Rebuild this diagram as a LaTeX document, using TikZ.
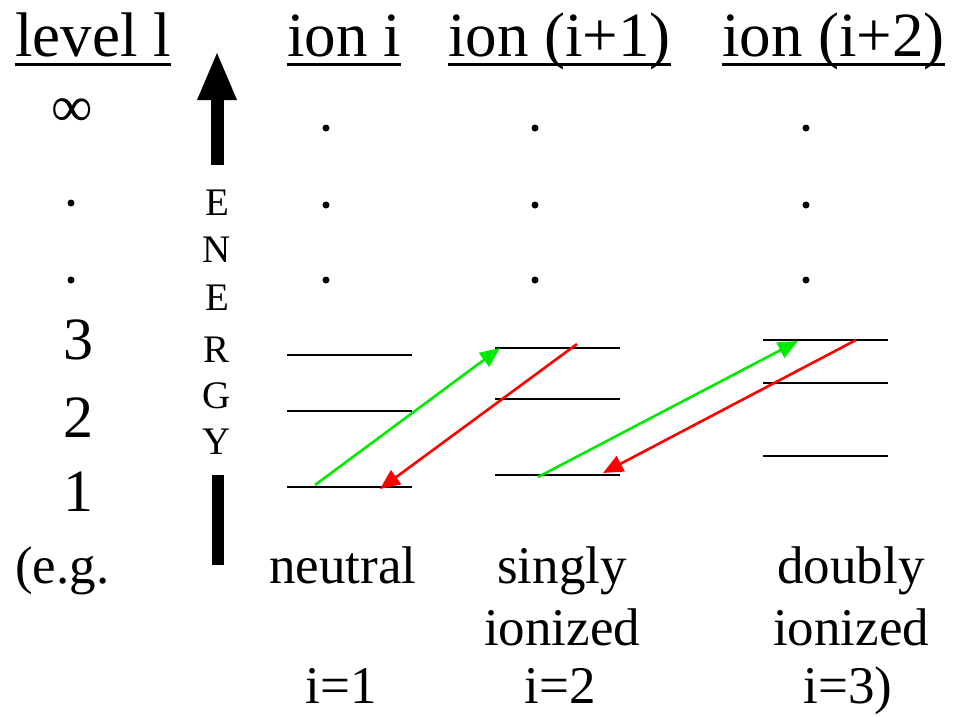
\documentclass[tikz,border=0pt]{standalone}
\usepackage{fontspec}
\setmainfont{Liberation Serif}
\usetikzlibrary{arrows.meta}
\definecolor{brightgreen}{RGB}{0,235,0}
\begin{document}
\begin{tikzpicture}[x=1pt,y=-1pt,
  head/.style={font=\fontsize{63}{63}\selectfont, inner sep=0pt, anchor=base west},
  uline/.style={line width=3pt},
  lvlnum/.style={font=\fontsize{60}{60}\selectfont, inner sep=0pt},
  lab/.style={font=\fontsize{53}{53}\selectfont, inner sep=0pt, anchor=base},
  enl/.style={font=\fontsize{39}{39}\selectfont, inner sep=0pt},
  eline/.style={line width=2.4pt},
  dotm/.style={fill, circle, inner sep=0pt, minimum size=7pt},
  upg/.style={draw=brightgreen, line width=2.6pt, -{Triangle[length=20pt,width=17pt]}, fill=brightgreen},
  dnr/.style={draw=red, line width=2.6pt, -{Triangle[length=20pt,width=17pt]}, fill=red}
]
\useasboundingbox (0,0) rectangle (961,716);
% headings
\node[head] (h0) at (15,56) {level l};
\node[head] (h1) at (287,56) {ion i};
\node[head] (h2) at (448,56) {ion (i+1)};
\node[head] (h3) at (722,56) {ion (i+2)};
\foreach \h in {h0,h1,h2,h3}
  \draw[uline] ([yshift=-8pt]\h.base west) -- ([yshift=-8pt]\h.base east);
% left column
\node[font=\fontsize{58}{58}\selectfont, inner sep=0pt] (inf) at (72,113) {∞};
\node[dotm] (ld1) at (71,203) {};
\node[dotm] (ld2) at (71,280) {};
\node[lvlnum] (n3) at (78,340) {3};
\node[lvlnum] (n2) at (78,418) {2};
\node[lvlnum] (n1) at (78,492) {1};
\node[lab, anchor=base west] (eg) at (15,583) {(e.g.};
% energy arrow
\coordinate (et) at (217,53);
\coordinate (eb) at (217,165);
\fill (197,100) -- (et) -- (237,100) -- cycle;
\draw[line width=13pt] (eb) -- (217,98);
\foreach \l/\y [count=\i] in {E/203,N/250,E/298,R/350,G/396,Y/442}
  \node[enl] (en\i) at (217,\y) {\l};
\coordinate (bt) at (218,475);
\coordinate (bb) at (218,565);
\draw[line width=12pt] (bt) -- (bb);
% dots in ion columns
\foreach \x [count=\c] in {326,535,806}
  \foreach \y [count=\r] in {128,205,280}
    \node[dotm] (d\c\r) at (\x,\y) {};
% level lines
\foreach \xa/\xb/\ya/\yb/\yc/\c in {287/412/355/411/487/a, 495/620/348/399/475/b, 763/888/340/383/456/c}{
  \coordinate (\c3w) at (\xa,\ya); \coordinate (\c3e) at (\xb,\ya);
  \coordinate (\c2w) at (\xa,\yb); \coordinate (\c2e) at (\xb,\yb);
  \coordinate (\c1w) at (\xa,\yc); \coordinate (\c1e) at (\xb,\yc);
  \draw[eline] (\c3w) -- (\c3e);
  \draw[eline] (\c2w) -- (\c2e);
  \draw[eline] (\c1w) -- (\c1e);
}
% transitions
\coordinate (g1s) at (315,485); \coordinate (g1e) at (500,348);
\coordinate (r1s) at (577,344); \coordinate (r1e) at (380,489);
\coordinate (g2s) at (538,477); \coordinate (g2e) at (798,341);
\coordinate (r2s) at (856,340); \coordinate (r2e) at (603,473);
\draw[upg] (g1s) -- (g1e);
\draw[dnr] (r1s) -- (r1e);
\draw[upg] (g2s) -- (g2e);
\draw[dnr] (r2s) -- (r2e);
% bottom labels
\node[lab] (l1a) at (343,583) {neutral};
\node[lab] (l2a) at (562,583) {singly};
\node[lab] (l3a) at (851,583) {doubly};
\node[lab] (l2b) at (562,645) {ionized};
\node[lab] (l3b) at (851,645) {ionized};
\node[lab] (l1c) at (341,703) {i=1};
\node[lab] (l2c) at (560,703) {i=2};
\node[lab] (l3c) at (848,703) {i=3)};
\end{tikzpicture}
\end{document}
